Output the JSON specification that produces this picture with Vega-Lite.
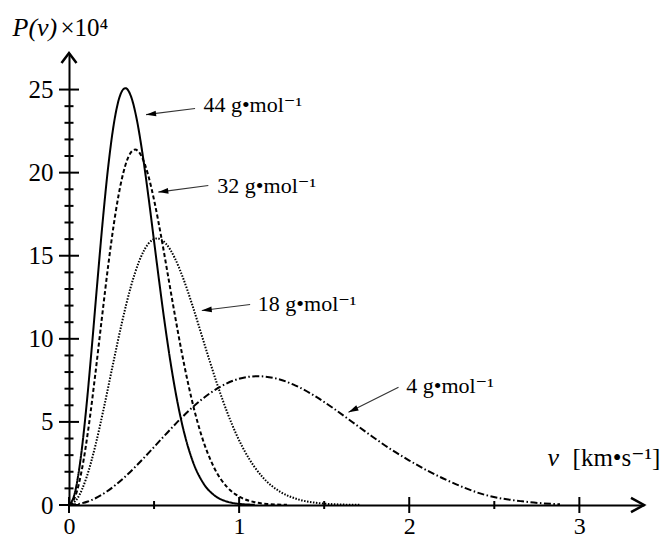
{
  "$schema": "https://vega.github.io/schema/vega-lite/v6.json",
  "width": 575,
  "height": 452,
  "autosize": "none",
  "padding": {"left": 69, "top": 53, "right": 21, "bottom": 35},
  "background": "white",
  "config": {"view": {"stroke": null}, "font": "Liberation Serif, DejaVu Serif, serif"},
  "datasets": {
    "curves": [
      {"M": "44", "v": 0, "p": 0},
      {"M": "44", "v": 0.0331, "p": 0.675},
      {"M": "44", "v": 0.0662, "p": 2.62},
      {"M": "44", "v": 0.0993, "p": 5.608},
      {"M": "44", "v": 0.1324, "p": 9.296},
      {"M": "44", "v": 0.1655, "p": 13.275},
      {"M": "44", "v": 0.1986, "p": 17.127},
      {"M": "44", "v": 0.2317, "p": 20.468},
      {"M": "44", "v": 0.2648, "p": 23.011},
      {"M": "44", "v": 0.2979, "p": 24.572},
      {"M": "44", "v": 0.331, "p": 25.083},
      {"M": "44", "v": 0.3641, "p": 24.599},
      {"M": "44", "v": 0.3972, "p": 23.263},
      {"M": "44", "v": 0.4303, "p": 21.259},
      {"M": "44", "v": 0.4634, "p": 18.831},
      {"M": "44", "v": 0.4965, "p": 16.166},
      {"M": "44", "v": 0.5296, "p": 13.493},
      {"M": "44", "v": 0.5627, "p": 10.95},
      {"M": "44", "v": 0.5958, "p": 8.652},
      {"M": "44", "v": 0.6289, "p": 6.658},
      {"M": "44", "v": 0.662, "p": 4.995},
      {"M": "44", "v": 0.7282, "p": 2.609},
      {"M": "44", "v": 0.7944, "p": 1.237},
      {"M": "44", "v": 0.8606, "p": 0.534},
      {"M": "44", "v": 0.9268, "p": 0.211},
      {"M": "44", "v": 0.993, "p": 0.076},
      {"M": "44", "v": 1.092, "p": 0.014},
      {"M": "32", "v": 0, "p": 0},
      {"M": "32", "v": 0.0388, "p": 0.576},
      {"M": "32", "v": 0.0776, "p": 2.234},
      {"M": "32", "v": 0.1165, "p": 4.782},
      {"M": "32", "v": 0.1553, "p": 7.926},
      {"M": "32", "v": 0.1941, "p": 11.319},
      {"M": "32", "v": 0.2329, "p": 14.604},
      {"M": "32", "v": 0.2717, "p": 17.452},
      {"M": "32", "v": 0.3106, "p": 19.621},
      {"M": "32", "v": 0.3494, "p": 20.952},
      {"M": "32", "v": 0.3882, "p": 21.388},
      {"M": "32", "v": 0.427, "p": 20.975},
      {"M": "32", "v": 0.4658, "p": 19.836},
      {"M": "32", "v": 0.5047, "p": 18.127},
      {"M": "32", "v": 0.5435, "p": 16.057},
      {"M": "32", "v": 0.5823, "p": 13.784},
      {"M": "32", "v": 0.6211, "p": 11.505},
      {"M": "32", "v": 0.6599, "p": 9.337},
      {"M": "32", "v": 0.6988, "p": 7.377},
      {"M": "32", "v": 0.7376, "p": 5.677},
      {"M": "32", "v": 0.7764, "p": 4.259},
      {"M": "32", "v": 0.854, "p": 2.225},
      {"M": "32", "v": 0.9317, "p": 1.055},
      {"M": "32", "v": 1.0093, "p": 0.456},
      {"M": "32", "v": 1.087, "p": 0.18},
      {"M": "32", "v": 1.1646, "p": 0.065},
      {"M": "32", "v": 1.281, "p": 0.012},
      {"M": "18", "v": 0, "p": 0},
      {"M": "18", "v": 0.0518, "p": 0.432},
      {"M": "18", "v": 0.1035, "p": 1.676},
      {"M": "18", "v": 0.1553, "p": 3.586},
      {"M": "18", "v": 0.207, "p": 5.944},
      {"M": "18", "v": 0.2588, "p": 8.489},
      {"M": "18", "v": 0.3106, "p": 10.952},
      {"M": "18", "v": 0.3623, "p": 13.089},
      {"M": "18", "v": 0.4141, "p": 14.715},
      {"M": "18", "v": 0.4658, "p": 15.713},
      {"M": "18", "v": 0.5176, "p": 16.04},
      {"M": "18", "v": 0.5694, "p": 15.731},
      {"M": "18", "v": 0.6211, "p": 14.876},
      {"M": "18", "v": 0.6729, "p": 13.594},
      {"M": "18", "v": 0.7246, "p": 12.042},
      {"M": "18", "v": 0.7764, "p": 10.338},
      {"M": "18", "v": 0.8282, "p": 8.628},
      {"M": "18", "v": 0.8799, "p": 7.002},
      {"M": "18", "v": 0.9317, "p": 5.533},
      {"M": "18", "v": 0.9834, "p": 4.258},
      {"M": "18", "v": 1.0352, "p": 3.194},
      {"M": "18", "v": 1.1387, "p": 1.669},
      {"M": "18", "v": 1.2422, "p": 0.791},
      {"M": "18", "v": 1.3458, "p": 0.342},
      {"M": "18", "v": 1.4493, "p": 0.135},
      {"M": "18", "v": 1.5528, "p": 0.048},
      {"M": "18", "v": 1.708, "p": 0.009},
      {"M": "4", "v": 0, "p": 0},
      {"M": "4", "v": 0.111, "p": 0.209},
      {"M": "4", "v": 0.222, "p": 0.81},
      {"M": "4", "v": 0.333, "p": 1.733},
      {"M": "4", "v": 0.444, "p": 2.873},
      {"M": "4", "v": 0.555, "p": 4.102},
      {"M": "4", "v": 0.666, "p": 5.293},
      {"M": "4", "v": 0.777, "p": 6.325},
      {"M": "4", "v": 0.888, "p": 7.111},
      {"M": "4", "v": 0.999, "p": 7.594},
      {"M": "4", "v": 1.11, "p": 7.751},
      {"M": "4", "v": 1.221, "p": 7.602},
      {"M": "4", "v": 1.332, "p": 7.189},
      {"M": "4", "v": 1.443, "p": 6.57},
      {"M": "4", "v": 1.554, "p": 5.82},
      {"M": "4", "v": 1.665, "p": 4.996},
      {"M": "4", "v": 1.776, "p": 4.17},
      {"M": "4", "v": 1.887, "p": 3.384},
      {"M": "4", "v": 1.998, "p": 2.69},
      {"M": "4", "v": 2.109, "p": 2.058},
      {"M": "4", "v": 2.22, "p": 1.5},
      {"M": "4", "v": 2.442, "p": 0.62},
      {"M": "4", "v": 2.664, "p": 0.22},
      {"M": "4", "v": 2.886, "p": 0.04}
    ],
    "xmaj": [{"v": 0, "p": 0}, {"v": 1, "p": 0}, {"v": 2, "p": 0}, {"v": 3, "p": 0}],
    "xmin": [{"v": 0.5, "p": 0}, {"v": 1.5, "p": 0}, {"v": 2.5, "p": 0}],
    "ymaj": [{"v": 0, "p": 0}, {"v": 0, "p": 5}, {"v": 0, "p": 10}, {"v": 0, "p": 15}, {"v": 0, "p": 20}, {"v": 0, "p": 25}],
    "ymin": [
      {"v": 0, "p": 1}, {"v": 0, "p": 2}, {"v": 0, "p": 3}, {"v": 0, "p": 4},
      {"v": 0, "p": 6}, {"v": 0, "p": 7}, {"v": 0, "p": 8}, {"v": 0, "p": 9},
      {"v": 0, "p": 11}, {"v": 0, "p": 12}, {"v": 0, "p": 13}, {"v": 0, "p": 14},
      {"v": 0, "p": 16}, {"v": 0, "p": 17}, {"v": 0, "p": 18}, {"v": 0, "p": 19},
      {"v": 0, "p": 21}, {"v": 0, "p": 22}, {"v": 0, "p": 23}, {"v": 0, "p": 24}
    ],
    "xend": [{"v": 3.38, "p": 0}],
    "yend": [{"v": 0, "p": 27.2}],
    "unitnotes": [
      {"label": "×10⁴", "lx": -0.05, "ly": 28.73},
      {"label": "[km•s⁻¹]", "lx": 2.96, "ly": 2.8}
    ],
    "notes": [
      {"M": "44", "label": "44 g•mol⁻¹", "lx": 0.79, "ly": 23.65, "tx": 0.741, "ty": 23.86, "hx": 0.453, "hy": 23.49},
      {"M": "32", "label": "32 g•mol⁻¹", "lx": 0.872, "ly": 18.8, "tx": 0.819, "ty": 19.23, "hx": 0.525, "hy": 18.83},
      {"M": "18", "label": "18 g•mol⁻¹", "lx": 1.11, "ly": 11.66, "tx": 1.0647, "ty": 12.07, "hx": 0.7806, "hy": 11.7},
      {"M": "4", "label": "4 g•mol⁻¹", "lx": 1.982, "ly": 6.75, "tx": 1.937, "ty": 7.08, "hx": 1.643, "hy": 5.58}
    ]
  },
  "encoding": {
    "x": {
      "type": "quantitative",
      "scale": {"domain": [0, 3.38], "nice": false, "zero": false},
      "axis": {
        "values": [0, 1, 2, 3], "format": "d", "grid": false, "ticks": false, "tickSize": 0,
        "domainColor": "black", "domainWidth": 2,
        "labelFont": "Liberation Serif, DejaVu Serif, serif", "labelFontSize": 24, "labelColor": "black", "labelPadding": 9, "labelFlush": false,
        "title": "v", "titleFont": "Liberation Serif, DejaVu Serif, serif", "titleFontSize": 26, "titleFontWeight": "normal", "titleFontStyle": "italic", "titleColor": "black",
        "titleAngle": 0, "titleAlign": "left", "titleBaseline": "middle", "titleX": 478, "titleY": -48
      }
    },
    "y": {
      "type": "quantitative",
      "scale": {"domain": [0, 27.2], "nice": false, "zero": false},
      "axis": {
        "values": [0, 5, 10, 15, 20, 25], "format": "d", "grid": false, "ticks": false, "tickSize": 0,
        "domainColor": "black", "domainWidth": 2,
        "labelFont": "Liberation Serif, DejaVu Serif, serif", "labelFontSize": 25, "labelColor": "black", "labelPadding": 16,
        "title": "P(v)", "titleFont": "Liberation Serif, DejaVu Serif, serif", "titleFontSize": 26, "titleFontWeight": "normal", "titleFontStyle": "italic", "titleColor": "black",
        "titleAngle": 0, "titleAlign": "left", "titleBaseline": "middle", "titleX": -57, "titleY": -26
      }
    }
  },
  "layer": [
    {
      "data": {"name": "curves"},
      "mark": {"type": "line", "interpolate": "monotone", "color": "black"},
      "encoding": {
        "x": {"field": "v"},
        "y": {"field": "p"},
        "strokeDash": {
          "field": "M", "type": "nominal",
          "scale": {"domain": ["44", "32", "18", "4"], "range": [[1, 0], [4, 2.5], [1.5, 1.5], [7, 2.5, 1.5, 2.5]]},
          "legend": null
        },
        "strokeWidth": {
          "field": "M", "type": "nominal",
          "scale": {"domain": ["44", "32", "18", "4"], "range": [2, 2, 1.6, 1.8]},
          "legend": null
        }
      }
    },
    {
      "data": {"name": "xmaj"},
      "mark": {"type": "tick", "orient": "vertical", "size": 16, "thickness": 2, "color": "black", "opacity": 1},
      "encoding": {"x": {"field": "v"}, "y": {"field": "p"}}
    },
    {
      "data": {"name": "xmin"},
      "mark": {"type": "tick", "orient": "vertical", "size": 8, "thickness": 2, "color": "black", "opacity": 1},
      "encoding": {"x": {"field": "v"}, "y": {"field": "p"}}
    },
    {
      "data": {"name": "ymaj"},
      "mark": {"type": "tick", "orient": "horizontal", "size": 20, "thickness": 2, "color": "black", "opacity": 1},
      "encoding": {"x": {"field": "v"}, "y": {"field": "p"}}
    },
    {
      "data": {"name": "ymin"},
      "mark": {"type": "tick", "orient": "horizontal", "size": 9, "thickness": 2, "color": "black", "opacity": 1},
      "encoding": {"x": {"field": "v"}, "y": {"field": "p"}}
    },
    {
      "data": {"name": "xend"},
      "mark": {"type": "point", "shape": "M-1,-0.55L0,0L-1,0.55", "filled": false, "stroke": "black", "strokeWidth": 2.5, "size": 676, "opacity": 1, "strokeJoin": "miter"},
      "encoding": {"x": {"field": "v"}, "y": {"field": "p"}}
    },
    {
      "data": {"name": "yend"},
      "mark": {"type": "point", "shape": "M-0.75,1L0,0L0.75,1", "filled": false, "stroke": "black", "strokeWidth": 2.5, "size": 400, "opacity": 1, "strokeJoin": "miter"},
      "encoding": {"x": {"field": "v"}, "y": {"field": "p"}}
    },
    {
      "data": {"name": "notes"},
      "mark": {"type": "rule", "color": "#333333", "strokeWidth": 1.1},
      "encoding": {
        "x": {"field": "tx"},
        "y": {"field": "ty"},
        "x2": {"field": "hx"},
        "y2": {"field": "hy"}
      }
    },
    {
      "data": {"name": "notes"},
      "transform": [{"filter": "datum.M !== '4'"}],
      "mark": {"type": "point", "shape": "M0,0L1,-0.28L1,0.28Z", "filled": true, "color": "black", "size": 400, "opacity": 1, "angle": 353},
      "encoding": {"x": {"field": "hx"}, "y": {"field": "hy"}}
    },
    {
      "data": {"name": "notes"},
      "transform": [{"filter": "datum.M === '4'"}],
      "mark": {"type": "point", "shape": "M0,0L1,-0.28L1,0.28Z", "filled": true, "color": "black", "size": 400, "opacity": 1, "angle": 334},
      "encoding": {"x": {"field": "hx"}, "y": {"field": "hy"}}
    },
    {
      "data": {"name": "notes"},
      "mark": {"type": "text", "align": "left", "baseline": "alphabetic", "font": "Liberation Serif, DejaVu Serif, serif", "fontSize": 22, "color": "black"},
      "encoding": {
        "x": {"field": "lx"},
        "y": {"field": "ly"},
        "text": {"field": "label"}
      }
    },
    {
      "data": {"name": "unitnotes"},
      "mark": {"type": "text", "align": "left", "baseline": "middle", "font": "Liberation Serif, DejaVu Serif, serif", "fontSize": 25, "color": "black"},
      "encoding": {
        "x": {"field": "lx"},
        "y": {"field": "ly"},
        "text": {"field": "label"}
      }
    }
  ]
}
